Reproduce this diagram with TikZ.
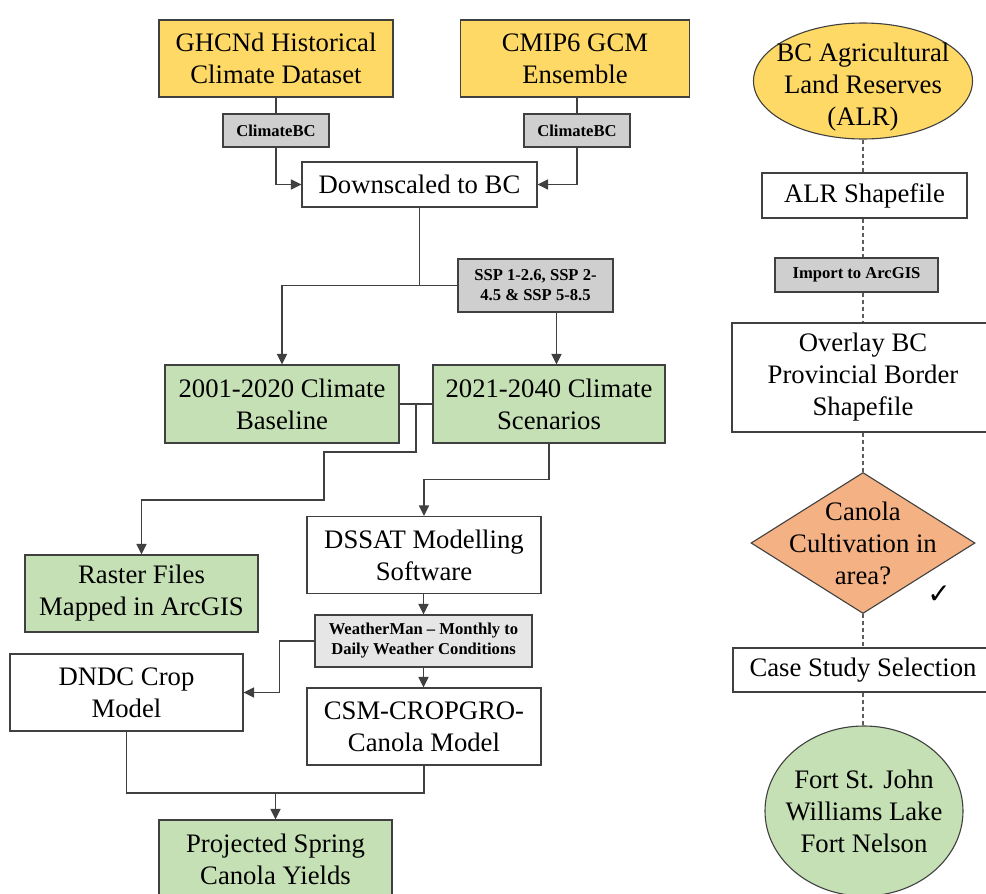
\documentclass[tikz,border=0pt]{standalone}
\usepackage{fontspec}
\setmainfont{Liberation Serif}
\newfontfamily\symfont{DejaVu Sans}
\usetikzlibrary{shapes.geometric,arrows.meta,calc}
\definecolor{cyellow}{HTML}{FFD966}
\definecolor{cgreen}{HTML}{C5E0B4}
\definecolor{cgreyd}{HTML}{D0CFCF}
\definecolor{cgreyl}{HTML}{E6E6E6}
\definecolor{corange}{HTML}{F4B183}
\definecolor{cline}{HTML}{404040}
\tikzset{
  box/.style={draw=cline, line width=1.1pt, rectangle, inner sep=0pt, align=center,
    font=\fontsize{26.7}{32}\selectfont},
  tag/.style={draw=cline, line width=1.1pt, rectangle, inner sep=0pt, align=center,
    fill=cgreyd, font=\fontsize{16.6}{20}\selectfont\bfseries},
  conn/.style={draw=cline, line width=1.2pt},
  arr/.style={conn, -{Triangle[length=10.5pt,width=10pt]}},
  dconn/.style={draw=cline!85, line width=1.1pt, dash pattern=on 4pt off 3pt},
  bigtext/.style={font=\fontsize{26.7}{32}\selectfont, align=center}
}
\begin{document}
\begin{tikzpicture}[x=1pt,y=-1pt]
\useasboundingbox (0,0) rectangle (986,894);
\clip (0,0) rectangle (986,894);
\fill[white] (0,0) rectangle (986,894);

% left flow
\node[box, fill=cyellow, minimum width=234, minimum height=77] (ghcn) at (276,58.5) {GHCNd Historical\\Climate Dataset};
\node[box, fill=cyellow, minimum width=229, minimum height=77] (cmip) at (575,58.5) {CMIP6 GCM\\Ensemble};
\node[tag, minimum width=106, minimum height=33] (cbcl) at (276,130.5) {ClimateBC};
\node[tag, minimum width=106, minimum height=33] (cbcr) at (577,130.5) {ClimateBC};
\node[box, fill=white, minimum width=235, minimum height=45] (down) at (419.5,184.5) {Downscaled to BC};
\node[tag, minimum width=155, minimum height=53] (ssp) at (535.5,285.5) {SSP 1-2.6, SSP 2-\\4.5 \& SSP 5-8.5};
\node[box, fill=cgreen, minimum width=234, minimum height=78] (base) at (282,404) {2001-2020 Climate\\Baseline};
\node[box, fill=cgreen, minimum width=232, minimum height=78] (scen) at (549,404) {2021-2040 Climate\\Scenarios};
\node[box, fill=cgreen, minimum width=233, minimum height=77] (raster) at (141.5,593.5) {Raster Files\\Mapped in ArcGIS};
\node[box, fill=white, minimum width=234, minimum height=77] (dssat) at (424,555) {DSSAT Modelling\\Software};
\node[tag, fill=cgreyl, minimum width=217, minimum height=52] (wm) at (423.5,641) {WeatherMan -- Monthly to\\Daily Weather Conditions};
\node[box, fill=white, minimum width=233, minimum height=77] (dndc) at (126.5,692.5) {DNDC Crop\\Model};
\node[box, fill=white, minimum width=234, minimum height=77] (csm) at (424,726.5) {CSM-CROPGRO-\\Canola Model};
\node[box, fill=cgreen, minimum width=233, minimum height=78] (proj) at (275.5,859) {Projected Spring\\Canola Yields};

\draw[conn] (ghcn.south) -- (cbcl.north);
\draw[conn] (cmip.south -| cbcr.north) -- (cbcr.north);
\draw[arr] (cbcl.south) |- (down.west);
\draw[arr] (cbcr.south) |- (down.east);
\coordinate (jd) at (down.south |- ssp.west);
\draw[conn] (down.south) -- (jd) -- (ssp.west);
\draw[arr] (jd) -| (base.north);
\draw[arr] ([xshift=21pt]ssp.south) -- ([xshift=21pt]ssp.south |- scen.north);
\draw[conn] (base.east) -- (scen.west);
\coordinate (jb) at ($(base.east)!0.5!(scen.west)$);
\coordinate (k1) at (324,452);
\coordinate (k2) at (324,500);
\draw[arr] (jb) |- (k1) -- (k2) -| (raster.north);
\draw[arr] (scen.south) -- ++(0,36) -| (dssat.north);
\draw[arr] (dssat.south -| wm.north) -- (wm.north);
\draw[arr] (wm.south) -- (wm.south |- csm.north);
\draw[arr] (wm.west) -- ++(-35,0) |- (dndc.east);
\coordinate (m) at (proj.north |- 0,793);
\draw[conn] (dndc.south) |- (m) -| (csm.south);
\draw[arr] (m) -- (proj.north);

% right column
\node[ellipse, draw=cline, line width=1.1pt, fill=cyellow, minimum width=219, minimum height=116, inner sep=0pt,
  label={[bigtext, yshift=-6pt]center:{BC Agricultural\\Land Reserves\\(ALR)}}] (alr) at (863,81) {};
\node[box, fill=white, minimum width=205, minimum height=45] (alrs) at (864.5,195.5) {ALR Shapefile};
\node[tag, minimum width=163, minimum height=34] (imp) at (856.5,275) {Import to ArcGIS};
\node[box, fill=white, minimum width=262, minimum height=109] (ovl) at (863,377.5) {Overlay BC\\Provincial Border\\Shapefile};
\node[diamond, draw=cline, line width=1.1pt, fill=corange, minimum width=224, minimum height=141, inner sep=0pt,
  label={[bigtext]center:{Canola\\Cultivation in\\area?}}] (dia) at (863,543) {};
\node[font=\symfont\fontsize{28}{30}\selectfont, inner sep=0pt] (chk) at (939,595) {✓};
\node[box, fill=white, minimum width=260, minimum height=44] (case) at (863,670) {Case Study Selection};
\node[ellipse, draw=cline, line width=1.1pt, fill=cgreen, minimum width=198, minimum height=170, inner sep=0pt,
  label={[bigtext]center:{Fort St. John\\Williams Lake\\Fort Nelson}}] (sites) at (864,811) {};

\draw[dconn] (alr.south) -- (alr.south |- alrs.north);
\draw[dconn] (alr.south |- alrs.south) -- (alr.south |- imp.north);
\draw[dconn] (alr.south |- imp.south) -- (ovl.north);
\draw[dconn] (ovl.south) -- (dia.north);
\draw[dconn] (dia.south) -- (case.north);
\draw[dconn] (case.south) -- (case.south |- sites.north);
\end{tikzpicture}
\end{document}
